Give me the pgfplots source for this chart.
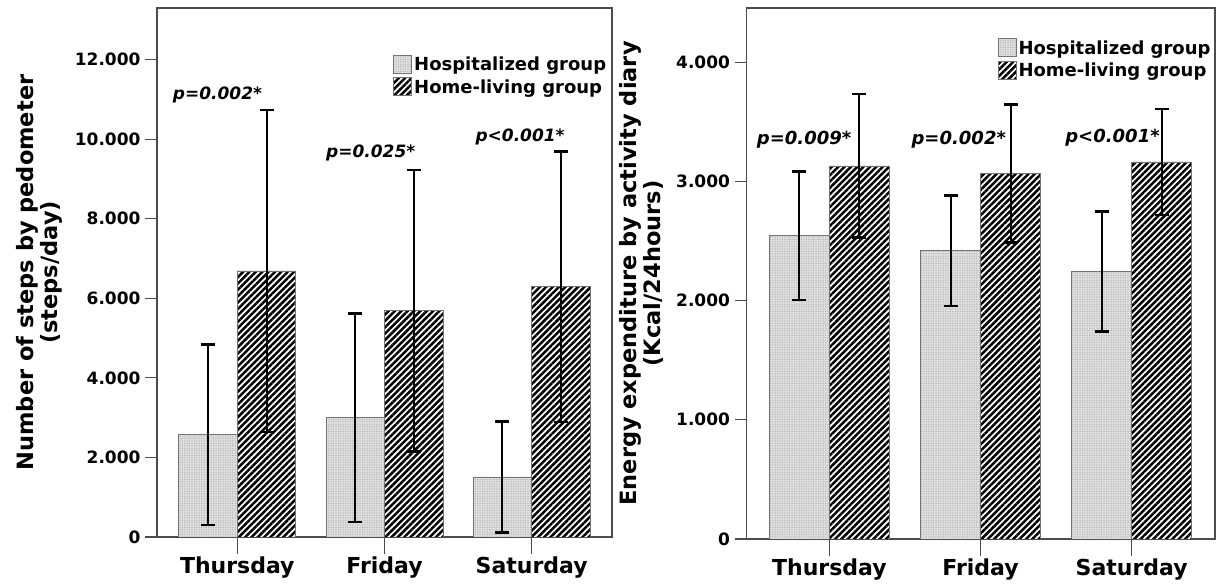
\documentclass[border=0pt]{standalone}
\usepackage{pgfplots}
\pgfplotsset{compat=1.18}
\usepackage{fontspec}
\setmainfont{DejaVu Sans}
\usetikzlibrary{patterns.meta}

\definecolor{axisgray}{gray}{0.3}
\definecolor{bargray}{gray}{0.45}

\pgfplotsset{
  mybase/.style={
    scale only axis,
    anchor=south west,
    axis line style={axisgray, line width=1.2pt},
    tick align=outside,
    major tick length=12pt,
    tick style={axisgray, line width=1.2pt},
    xtick={0,1,2},
    xticklabels={Thursday,Friday,Saturday},
    xtick pos=bottom,
    ytick pos=left,
    xtick style={/pgfplots/major tick length=17pt},
    xticklabel style={font=\fontsize{22}{24}\selectfont\bfseries, yshift=-4pt},
    yticklabel style={font=\fontsize{17}{20}\selectfont\bfseries, xshift=-1pt},
    ylabel style={font=\fontsize{22.5}{24}\selectfont\bfseries, align=center, anchor=center},
    ybar=0pt,
    bar width=0.397,
    ymin=0,
    legend cell align=left,
    legend style={draw=none, fill=none, font=\fontsize{18}{20}\selectfont\bfseries,
      anchor=north east, inner sep=0pt, row sep=3pt,
      /tikz/every even column/.append style={column sep=2pt}},
    legend image code/.code={\draw[##1, line width=0.8pt] (0pt,-8.5pt) rectangle (18pt,9.5pt);},
    hosp/.style={draw=bargray, line width=0.8pt, fill=gray!25,
      postaction={pattern={Dots[distance=2.4pt,radius=0.6pt]}, pattern color=gray!70},
      error bars/.cd, y dir=both, y explicit,
      error bar style={black, line width=2pt},
      error mark options={black, rotate=90, mark size=7pt, line width=2.5pt}},
    home/.style={draw=bargray, line width=0.8pt, fill=white,
      postaction={pattern={Lines[angle=45,distance=4.5pt,line width=2.5pt]}, pattern color=black},
      error bars/.cd, y dir=both, y explicit,
      error bar style={black, line width=2pt},
      error mark options={black, rotate=90, mark size=7pt, line width=2.5pt}},
  }
}

\begin{document}
\begin{tikzpicture}
\path[use as bounding box] (0pt,0pt) rectangle (1220pt,585pt);

% Left panel: steps
\begin{axis}[mybase,
  at={(157pt,48pt)}, width=455pt, height=529pt,
  xmin=-0.5455, xmax=2.5455,
  ymax=13300,
  ytick={0,2000,4000,6000,8000,10000,12000},
  yticklabels={0,2.000,4.000,6.000,8.000,10.000,12.000},
  ylabel={Number of steps by pedometer\\(steps/day)},
  ylabel style={at={(axis description cs:-0.258,0.5)}},
  legend style={at={(axis description cs:0.992,0.912)}},
]
\addplot[hosp] coordinates {
  (0,2570) +- (0,2270)
  (1,3000) +- (0,2620)
  (2,1510) +- (0,1400)
};
\addplot[home] coordinates {
  (0,6690) +- (0,4050)
  (1,5690) +- (0,3540)
  (2,6290) +- (0,3400)
};
\legend{Hospitalized group, Home-living group}
\node[font=\fontsize{17}{20}\selectfont\bfseries\itshape] at (axis cs:-0.135,11120) {p=0.002*};
\node[font=\fontsize{17}{20}\selectfont\bfseries\itshape] at (axis cs:0.906,9660) {p=0.025*};
\node[font=\fontsize{17}{20}\selectfont\bfseries\itshape] at (axis cs:1.921,10064) {p<0.001*};
\end{axis}

% Right panel: energy
\begin{axis}[mybase,
  at={(746.5pt,46pt)}, width=468.5pt, height=531pt,
  xmin=-0.548, xmax=2.551,
  ymax=4455,
  ytick={0,1000,2000,3000,4000},
  yticklabels={0,1.000,2.000,3.000,4.000},
  ylabel={Energy expenditure by activity diary\\(Kcal/24hours)},
  ylabel style={at={(axis description cs:-0.224,0.5)}},
  legend style={at={(axis description cs:0.995,0.943)}},
]
\addplot[hosp] coordinates {
  (0,2545) +- (0,540)
  (1,2418) +- (0,463)
  (2,2243) +- (0,503)
};
\addplot[home] coordinates {
  (0,3130) +- (0,602)
  (1,3066) +- (0,580)
  (2,3163) +- (0,445)
};
\legend{Hospitalized group, Home-living group}
\node[font=\fontsize{18}{20}\selectfont\bfseries\itshape] at (axis cs:-0.167,3347) {p=0.009*};
\node[font=\fontsize{18}{20}\selectfont\bfseries\itshape] at (axis cs:0.856,3347) {p=0.002*};
\node[font=\fontsize{18}{20}\selectfont\bfseries\itshape] at (axis cs:1.873,3364) {p<0.001*};
\end{axis}
\end{tikzpicture}
\end{document}
